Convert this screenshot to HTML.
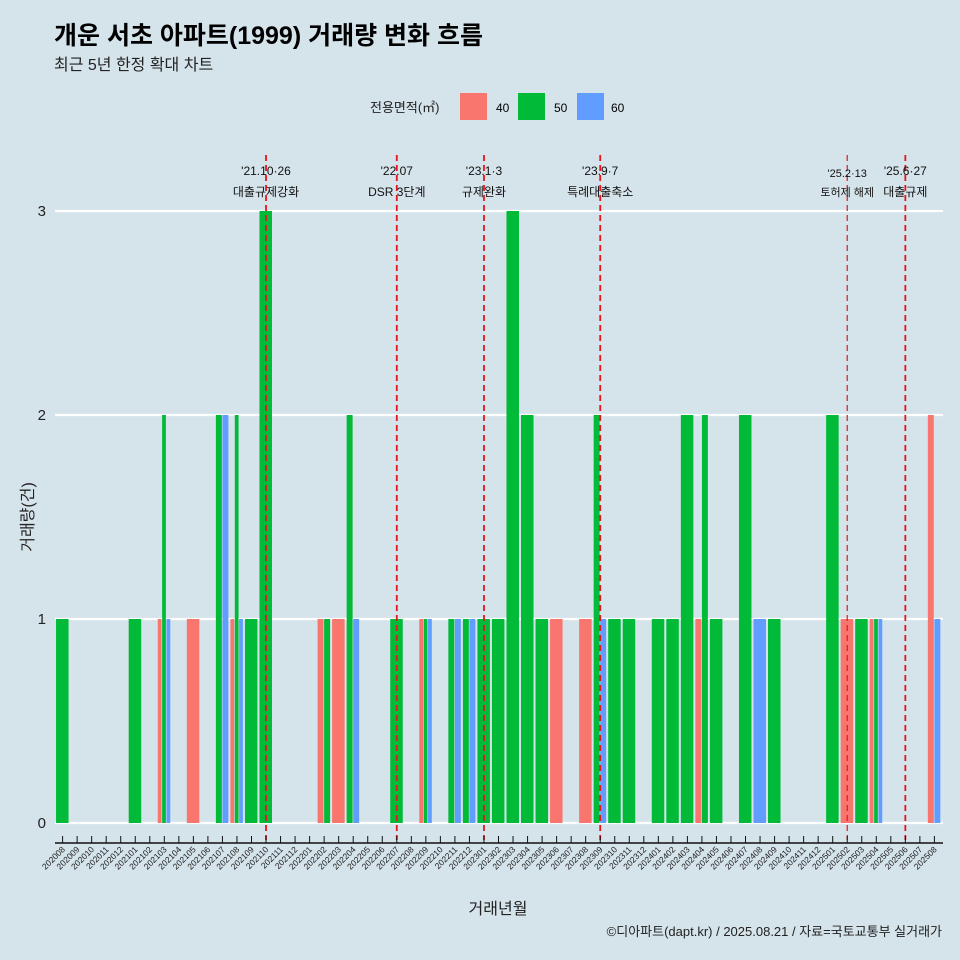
<!DOCTYPE html>
<html><head><meta charset="utf-8">
<style>
body{margin:0;background:#d5e3ea;}
svg{display:block;font-family:"Liberation Sans","Noto Sans CJK KR",sans-serif;}
</style></head>
<body>
<svg id="chart" width="960" height="960" viewBox="0 0 960 960">
<rect x="0" y="0" width="960" height="960" fill="#d5e3ea"/>
<text x="54" y="44" font-size="25" font-weight="bold" fill="#000">개운 서초 아파트(1999) 거래량 변화 흐름</text>
<text x="54" y="70" font-size="16" fill="#222">최근 5년 한정 확대 차트</text>
<g>
<text x="370" y="112" font-size="13" fill="#222">전용면적(㎡)</text>
<rect x="460" y="93" width="27" height="27" fill="#F8766D"/>
<text x="496" y="112" font-size="12">40</text>
<rect x="518" y="93" width="27" height="27" fill="#00BA38"/>
<text x="554" y="112" font-size="12">50</text>
<rect x="577" y="93" width="27" height="27" fill="#619CFF"/>
<text x="611" y="112" font-size="12">60</text>
</g>
<g id="grid"></g><g id="bars"></g><g id="vlines"></g><g id="axes"></g>
<text transform="translate(33,517) rotate(-90)" text-anchor="middle" font-size="16" fill="#222">거래량(건)</text>
<text x="498" y="914" text-anchor="middle" font-size="16" fill="#222">거래년월</text>
<text x="942" y="936" text-anchor="end" font-size="13" fill="#222">©디아파트(dapt.kr) / 2025.08.21 / 자료=국토교통부 실거래가</text>
</svg>
<script>
const months=[];
for(let y=2020;y<=2025;y++)for(let m=1;m<=12;m++){const k=y*100+m;if(k>=202008&&k<=202508)months.push(String(k));}
const sizes=["40","50","60"];
const colors={"40":"#F8766D","50":"#00BA38","60":"#619CFF"};
const series40={"202103":1,"202105":1,"202108":1,"202202":1,"202203":1,"202209":1,"202306":1,"202308":1,"202404":1,"202502":1,"202504":1,"202508":2};
const series50={"202008":1,"202101":1,"202103":2,"202107":2,"202108":2,"202109":1,"202110":3,"202202":1,"202204":2,"202207":1,"202209":1,"202211":1,"202212":1,"202301":1,"202302":1,"202303":3,"202304":2,"202305":1,"202309":2,"202310":1,"202311":1,"202401":1,"202402":1,"202403":2,"202404":2,"202405":1,"202407":2,"202409":1,"202501":2,"202503":1,"202504":1};
const series60={"202103":1,"202107":2,"202108":1,"202204":1,"202209":1,"202211":1,"202212":1,"202309":1,"202408":1,"202504":1,"202508":1};
const yTicks=[0,1,2,3];
const events=["202110","202207","202301","202309","202502","202506"];
const eventDates=["'21.10·26","'22.07","'23.1·3","'23.9·7","'25.2·13","'25.6·27"];
const eventNames=["대출규제강화","DSR 3단계","규제완화","특례대출축소","토허제 해제","대출규제"];

const NS="http://www.w3.org/2000/svg";
const x0=62.6,step=14.53,bw=13.1;
const xS=m=>x0+months.indexOf(m)*step;
const yS=v=>823-v*204;
function mk(tag,attrs,parent){const e=document.createElementNS(NS,tag);for(const k in attrs)e.setAttribute(k,attrs[k]);parent.appendChild(e);return e;}
const grid=document.getElementById('grid'),bars=document.getElementById('bars'),vl=document.getElementById('vlines'),ax=document.getElementById('axes');
yTicks.forEach(t=>{
 const l=mk('line',{x1:55,x2:943,y1:yS(t),y2:yS(t),stroke:'#fff','stroke-width':2.2},grid);
 
 
 const tx=mk('text',{x:46,y:yS(t)+5,'text-anchor':'end','font-size':15,fill:'#222'},ax);
 tx.textContent=t;
 
 
});
const data={"40":series40,"50":series50,"60":series60};
months.forEach(m=>{
 const present=sizes.filter(s=>data[s][m]);
 const n=present.length;if(!n)return;
 const w=bw/n;
 present.forEach((s,i)=>{
  const v=data[s][m];
  const x=xS(m)-bw/2+i*w;
  const r=mk('rect',{x:x,y:yS(v),width:Math.max(w-0.6,0.5),height:yS(0)-yS(v),fill:colors[s]},bars);
  
  
 });
});
events.forEach((m,i)=>{
 const x=xS(m);
 const thin=m==="202502";
 const l=mk('line',{x1:x,x2:x,y1:155,y2:840,stroke:'#e8141c','stroke-width':thin?1.2:1.8,'stroke-dasharray':'6,4'},vl);
 
 
 const fs=(m==="202502")?11:12;
 const t1=mk('text',{x:x,y:thin?177:175,'text-anchor':'middle','font-size':fs,fill:'#111'},vl);
 t1.textContent=eventDates[i];
 
 
 const t2=mk('text',{x:x,y:196,'text-anchor':'middle','font-size':fs,fill:'#111'},vl);
 t2.textContent=eventNames[i];
 
 
});
const axl=mk('line',{x1:55,x2:943,y1:843,y2:843,stroke:'#111','stroke-width':1.5},ax);


months.forEach(m=>{
 const x=xS(m);
 const tk=mk('line',{x1:x,x2:x,y1:836,y2:843,stroke:'#111','stroke-width':1},ax);
 
 
 const t=mk('text',{x:x+3,y:850,'text-anchor':'end','font-size':8.5,fill:'#222',transform:`rotate(-45 ${x+3} 850)`},ax);
 t.textContent=m;
 
 
});
</script>
</body></html>
